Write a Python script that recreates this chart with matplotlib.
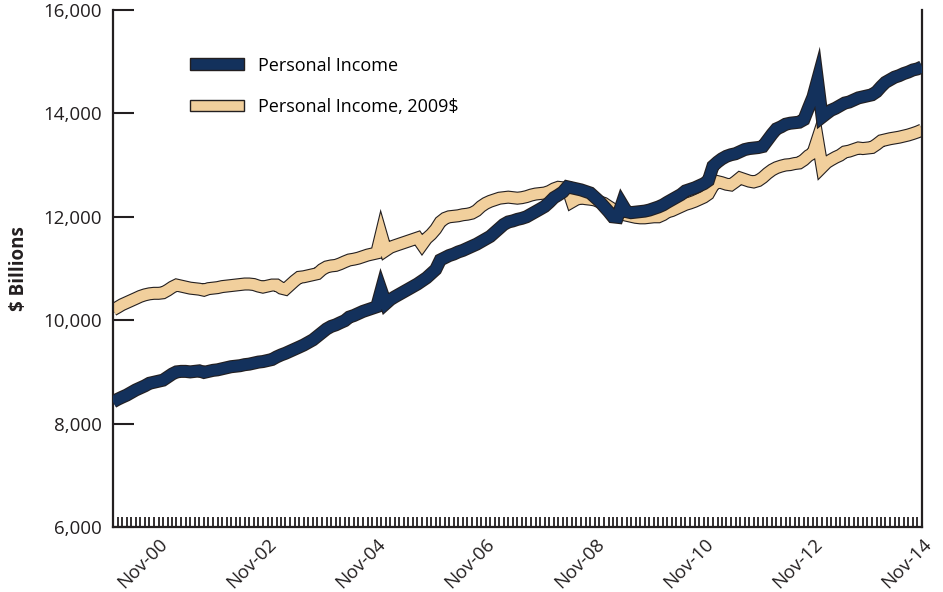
import matplotlib
matplotlib.use("Agg")
import matplotlib.pyplot as plt
import matplotlib.dates as mdates
from matplotlib.patches import Patch
import pandas as pd

months = pd.date_range("2000-01-01", "2014-11-01", freq="MS")

personal_income = [
    # 2000
    8420, 8470, 8510, 8550, 8600, 8650, 8690, 8730, 8780, 8800, 8820, 8840,
    # 2001
    8900, 8960, 9000, 9010, 9010, 9000, 9010, 9020, 8990, 9010, 9030, 9040,
    # 2002
    9060, 9080, 9100, 9110, 9120, 9140, 9150, 9170, 9190, 9200, 9220, 9240,
    # 2003
    9290, 9330, 9360, 9400, 9440, 9480, 9520, 9570, 9620, 9690, 9760, 9830,
    # 2004
    9880, 9910, 9950, 9990, 10060, 10090, 10130, 10170, 10200, 10230, 10260, 10580,
    # 2005
    10320, 10400, 10450, 10500, 10550, 10600, 10650, 10700, 10760, 10820, 10900, 10980,
    # 2006
    11165, 11210, 11250, 11280, 11320, 11350, 11390, 11430, 11470, 11520, 11570, 11620,
    # 2007
    11700, 11780, 11850, 11900, 11920, 11950, 11970, 12000, 12050, 12100, 12150, 12200,
    # 2008
    12280, 12370, 12420, 12480, 12580, 12560, 12540, 12520, 12490, 12460, 12380, 12300,
    # 2009
    12200, 12100, 12000, 11990, 12250, 12100, 12080, 12090, 12100, 12110, 12130, 12160,
    # 2010
    12190, 12230, 12280, 12330, 12380, 12430, 12500, 12530, 12560, 12600, 12640, 12700,
    # 2011
    12980, 13060, 13120, 13170, 13200, 13220, 13260, 13300, 13320, 13330, 13340, 13360,
    # 2012
    13480, 13600, 13700, 13740, 13790, 13810, 13820, 13830, 13880, 14100, 14320, 14640,
    # 2013
    13930, 14000, 14060, 14100, 14150, 14200, 14220, 14260, 14300, 14320, 14340, 14360,
    # 2014
    14420, 14520, 14600, 14650, 14700, 14730, 14770, 14800, 14840, 14860, 14900,
]

personal_income_2009 = [
    # 2000
    10200, 10250, 10300, 10340, 10380, 10420, 10460, 10490, 10510, 10520, 10520, 10530,
    # 2001
    10580, 10640, 10680, 10660, 10640, 10620, 10610, 10600, 10580, 10610, 10620, 10630,
    # 2002
    10650, 10660, 10670, 10680, 10690, 10700, 10700, 10690, 10660, 10640, 10660, 10680,
    # 2003
    10680, 10620, 10600, 10680, 10760, 10830, 10840, 10860, 10880, 10900, 10980, 11030,
    # 2004
    11050, 11060, 11090, 11130, 11165, 11180, 11200, 11230, 11260, 11280, 11300, 11660,
    # 2005
    11350, 11410, 11440, 11470, 11500, 11530, 11560, 11590, 11460, 11580, 11660, 11760,
    # 2006
    11900, 11970, 12000, 12010, 12020, 12040, 12050, 12070, 12120, 12200, 12260, 12300,
    # 2007
    12330, 12360, 12370, 12380, 12370, 12360, 12370, 12390, 12420, 12440, 12450, 12460,
    # 2008
    12490, 12540, 12570, 12560, 12560, 12290, 12340, 12364, 12350, 12340, 12326, 12290,
    # 2009
    12260, 12200, 12150, 12120, 12200, 12030, 12010, 11990, 11980, 11980, 11990, 12000,
    # 2010
    12000, 12040, 12094, 12120, 12160, 12200, 12240, 12267, 12300, 12340, 12380, 12440,
    # 2011
    12600, 12680, 12660, 12630, 12616, 12680, 12751, 12720, 12690, 12674, 12700, 12760,
    # 2012
    12840, 12906, 12950, 12980, 13002, 13010, 13030, 13041, 13100, 13180, 13234, 13500,
    # 2013
    12960, 13050, 13100, 13150, 13190, 13254, 13270, 13300, 13331, 13320, 13330, 13340,
    # 2014
    13400, 13470, 13490, 13510, 13524, 13540, 13560, 13582, 13610, 13640, 13679,
]

series_names = ["Personal Income", "Personal Income, 2009$"]
y_ticks = [6000, 8000, 10000, 12000, 14000, 16000]
x_tick_dates = pd.date_range("2000-11-01", "2014-11-01", freq="24MS")
x_tick_labels = [d.strftime("%b-%y") for d in x_tick_dates]

NAVY = "#13315c"
TAN = "#f1cf9c"
DARK = "#231f20"

plt.rcParams["font.family"] = ["Open Sans", "DejaVu Sans"]

fig = plt.figure(figsize=(9.43, 5.92), dpi=100)
ax = fig.add_axes([113 / 943, 65 / 592, 809 / 943, 517 / 592])

outer_lw, inner_lw = 9.4, 7.8
for vals, col, z in [(personal_income_2009, TAN, 2), (personal_income, NAVY, 3)]:
    ax.plot(months, vals, color=DARK, lw=outer_lw, solid_joinstyle="miter",
            solid_capstyle="butt", zorder=z)
    ax.plot(months, vals, color=col, lw=inner_lw, solid_joinstyle="miter",
            solid_capstyle="butt", zorder=z + 0.1)

ax.set_xlim(months[0], months[-1])
ax.set_ylim(6000, 16000)
ax.set_yticks(y_ticks)
ax.set_yticklabels([f"{v:,}" for v in y_ticks], fontsize=13.5, color=DARK)
ax.set_ylabel("$ Billions", fontsize=13.5, fontweight="bold", color=DARK, labelpad=10)

ax.set_xticks(x_tick_dates)
ax.set_xticklabels(x_tick_labels, rotation=45, ha="right", rotation_mode="anchor",
                   fontsize=13.5, color=DARK)
ax.xaxis.set_minor_locator(mdates.MonthLocator())

ax.tick_params(axis="y", direction="in", length=15, width=1.5, color=DARK, pad=8)
ax.tick_params(axis="x", which="both", direction="in", length=7.5, width=1.3,
               color=DARK, pad=6)

for s in ["left", "right", "bottom"]:
    ax.spines[s].set_linewidth(1.6)
    ax.spines[s].set_color(DARK)
ax.spines["top"].set_visible(False)

handles = [Patch(facecolor=NAVY, edgecolor=DARK, lw=1.0),
           Patch(facecolor=TAN, edgecolor=DARK, lw=1.0)]
ax.legend(handles, series_names, loc="upper left", bbox_to_anchor=(0.095, 0.91),
          frameon=False, fontsize=13, handlelength=3.0, handleheight=0.6,
          labelspacing=1.3, handletextpad=0.8, borderpad=0, borderaxespad=0)

fig.savefig("out.png", dpi=100)
